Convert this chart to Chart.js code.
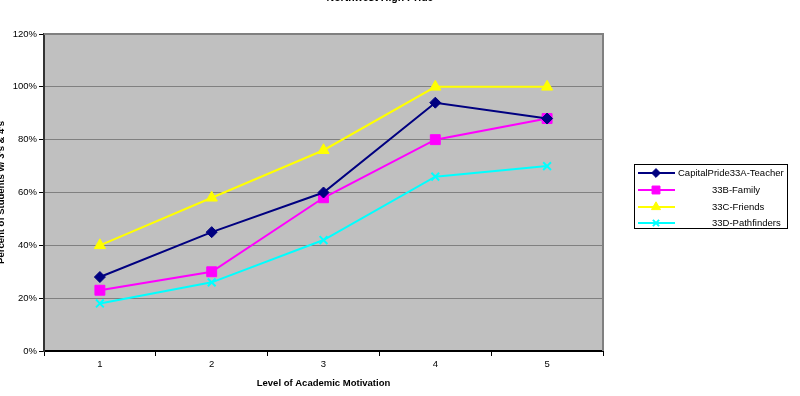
<!DOCTYPE html>
<html><head><meta charset="utf-8">
<script src="https://cdn.jsdelivr.net/npm/chart.js@4/dist/chart.umd.min.js"></script>
<style>html,body{margin:0;padding:0;background:#fff;overflow:hidden}#wrap{position:absolute;left:0;top:0;width:800px;height:396px}</style>
</head><body><div id="wrap"><canvas id="c" width="800" height="396"></canvas></div>
<script>
const chartTitle = "Northwest High Pride";
const xTitle = "Level of Academic Motivation";
const yTitle = "Percent of Students w/ 3's & 4's";
const categories = ["1", "2", "3", "4", "5"];
const seriesNames = ["CapitalPride33A-Teacher", "33B-Family", "33C-Friends", "33D-Pathfinders"];
const teacher = [28, 45, 60, 94, 88];
const family = [23, 30, 58, 80, 88];
const friends = [40, 58, 76, 100, 100];
const pathfinders = [18, 26, 42, 66, 70];
const yTicks = [0, 20, 40, 60, 80, 100, 120];

const FONT = "'Liberation Sans', Arial, sans-serif";
const styles = [
  {color: '#000080', point: 'rectRot', r: 5.5, bw: 1},
  {color: '#ff00ff', point: 'rect', r: 7, bw: 1},
  {color: '#ffff00', point: 'triangle', r: 6.5, bw: 1},
  {color: '#00ffff', point: 'crossRot', r: 5.5, bw: 2}
];
const values = [teacher, family, friends, pathfinders];

const bgPlugin = {
  id: 'bg',
  beforeDraw(chart) {
    const {ctx, chartArea: a} = chart;
    ctx.save();
    ctx.fillStyle = '#c0c0c0';
    ctx.fillRect(a.left, a.top, a.right - a.left, a.bottom - a.top);
    ctx.restore();
  },
  afterDraw(chart) {
    const {ctx, chartArea: a} = chart;
    ctx.save();
    ctx.strokeStyle = '#808080';
    ctx.lineWidth = 2;
    ctx.beginPath();
    ctx.moveTo(a.left, a.top); ctx.lineTo(a.right, a.top); ctx.lineTo(a.right, a.bottom);
    ctx.stroke();
    // title
    ctx.fillStyle = '#000';
    ctx.font = 'bold 10.5px ' + FONT;
    ctx.textAlign = 'center';
    ctx.textBaseline = 'middle';
    ctx.fillText(chartTitle, 380, -2);
    // legend
    const bx = 634, by = 164, bw = 153, bh = 64;
    ctx.fillStyle = '#fff';
    ctx.fillRect(bx, by, bw, bh);
    ctx.strokeStyle = '#000';
    ctx.lineWidth = 1;
    ctx.strokeRect(bx + 0.5, by + 0.5, bw, bh);
    const rows = [173, 190, 207, 223];
    const textX = [678, 712, 712, 712];
    ctx.font = '9.5px ' + FONT;
    ctx.textAlign = 'left';
    ctx.textBaseline = 'middle';
    for (let i = 0; i < seriesNames.length; i++) {
      const s = styles[i];
      ctx.strokeStyle = s.color;
      ctx.lineWidth = 2;
      ctx.beginPath(); ctx.moveTo(638, rows[i]); ctx.lineTo(675, rows[i]); ctx.stroke();
      ctx.fillStyle = s.color;
      ctx.lineWidth = s.bw;
      Chart.helpers.drawPoint(ctx, {pointStyle: s.point, radius: s.r * 0.8, borderWidth: s.bw}, 656, rows[i]);
      ctx.fillStyle = '#000';
      ctx.fillText(seriesNames[i], textX[i], rows[i]);
    }
    ctx.restore();
  }
};

new Chart(document.getElementById('c'), {
  type: 'line',
  data: {
    labels: categories,
    datasets: values.map((v, i) => ({
      label: seriesNames[i],
      data: v,
      borderColor: styles[i].color,
      backgroundColor: styles[i].color,
      pointBackgroundColor: styles[i].color,
      pointBorderColor: styles[i].color,
      pointStyle: styles[i].point,
      pointRadius: styles[i].r,
      pointBorderWidth: styles[i].bw,
      borderWidth: 2,
      tension: 0,
      fill: false
    }))
  },
  options: {
    responsive: false,
    animation: false,
    devicePixelRatio: 1,
    layout: {padding: {top: 34, right: 197, left: 0, bottom: 0}},
    plugins: {legend: {display: false}, title: {display: false}, tooltip: {enabled: false}},
    scales: {
      x: {
        type: 'category',
        offset: true,
        afterFit(s) { s.height = 396 - 351; },
        grid: {offset: true, drawOnChartArea: false, drawTicks: true, tickLength: 5, tickColor: '#000', color: '#000'},
        border: {display: true, color: '#000', width: 2},
        ticks: {font: {family: FONT, size: 9.5}, color: '#000', padding: 3},
        title: {display: true, text: xTitle, font: {family: FONT, size: 9.5, weight: 'bold'}, color: '#000', padding: {top: 0, bottom: 7}}
      },
      y: {
        min: 0, max: 120,
        afterFit(s) { s.width = 44; },
        afterBuildTicks(s) { s.ticks = yTicks.map(v => ({value: v})); },
        grid: {color: '#808080', lineWidth: 1, drawTicks: true, tickLength: 5, tickColor: '#000'},
        border: {display: true, color: '#333', width: 2},
        ticks: {font: {family: FONT, size: 9.5}, color: '#000', padding: 2, callback: v => v + '%'},
        title: {display: true, text: yTitle, font: {family: FONT, size: 9.5, weight: 'bold'}, color: '#000', padding: {top: -4, bottom: 0}}
      }
    }
  },
  plugins: [bgPlugin]
});
</script></body></html>
